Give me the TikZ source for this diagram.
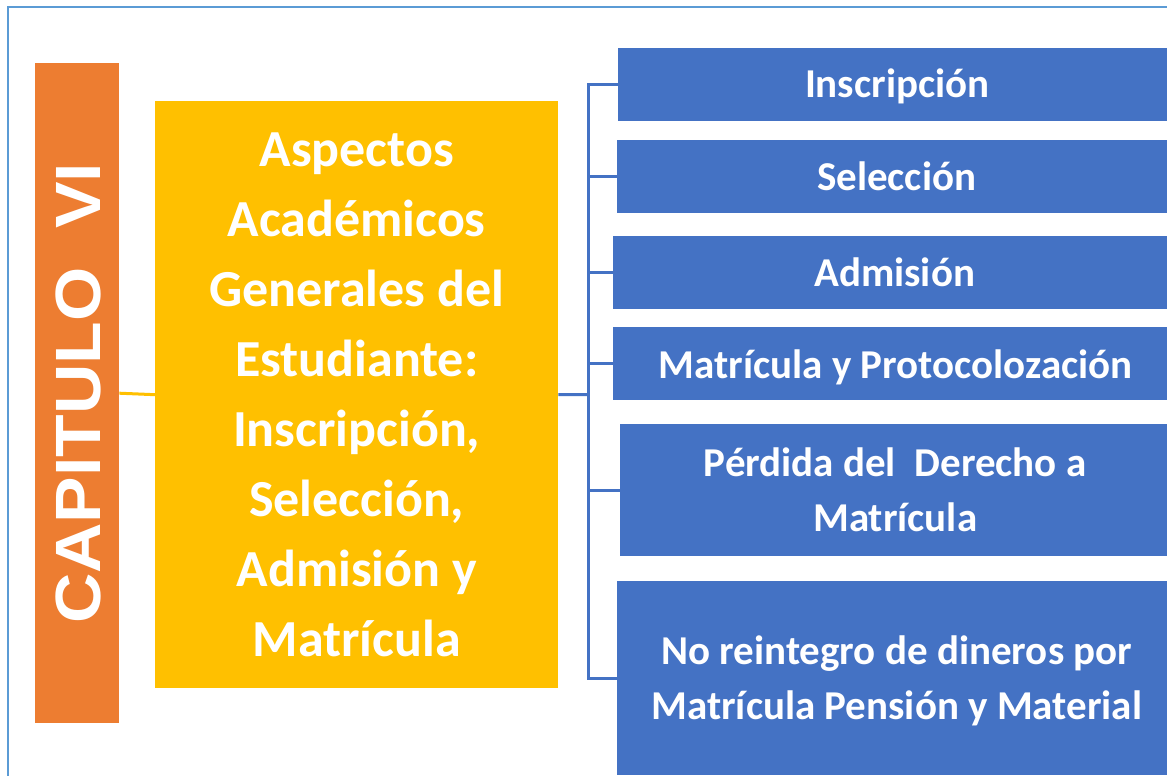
\documentclass[tikz,border=0pt]{standalone}
\usepackage{fontspec}
\setmainfont{Carlito}
\newfontfamily\arialb{Liberation Sans}[BoldFont={* Bold}]
\definecolor{framebl}{HTML}{5B9BD5}
\definecolor{capor}{HTML}{ED7D31}
\definecolor{aspyel}{HTML}{FFC000}
\definecolor{itembl}{HTML}{4472C4}
\begin{document}
\begin{tikzpicture}[x=1pt,y=-1pt,
  itembox/.style={fill=itembl,draw=none,anchor=north west,inner sep=0pt},
  itemtxt/.style={text=white,align=center,font=\fontsize{41}{55}\selectfont\bfseries},
  conn/.style={draw=itembl,line width=3pt},
  yconn/.style={draw=aspyel,line width=3pt}]
\useasboundingbox (0,0) rectangle (1167,776);
\fill[white] (0,0) rectangle (1167,776);
\draw[framebl,line width=2.5pt] (8,7) rectangle (1180,790);
% left column
\node[fill=capor,anchor=north west,minimum width=84pt,minimum height=660pt,inner sep=0pt] (cap) at (35,63) {};
\node[rotate=90,text=white,font=\arialb\fontsize{64}{70}\selectfont\bfseries] (captxt) at ([xshift=1pt]cap.center) {\scalebox{1.09}[1]{CAPITULO\ \ VI}};
\node[fill=aspyel,anchor=north west,minimum width=403pt,minimum height=587pt,inner sep=0pt] (yel) at (155,101) {};
\node[text=white,align=center,font=\fontsize{52}{70}\selectfont\bfseries] (yeltxt) at (yel.center)
 {Aspectos\\Académicos\\Generales del\\Estudiante:\\Inscripción,\\Selección,\\Admisión y\\Matrícula};
% right boxes
\node[itembox,minimum width=552pt,minimum height=73pt] (b1) at (618,48) {};
\node[itemtxt] (t1) at ([xshift=3pt,yshift=-2pt]b1.center) {Inscripción};
\node[itembox,minimum width=553pt,minimum height=73pt] (b2) at (617,140) {};
\node[itemtxt] (t2) at ([xshift=3pt,yshift=0pt]b2.center) {Selección};
\node[itembox,minimum width=557pt,minimum height=73pt] (b3) at (613,236) {};
\node[itemtxt] (t3) at ([xshift=3pt,yshift=0pt]b3.center) {Admisión};
\node[itembox,minimum width=557pt,minimum height=73pt] (b4) at (613,327) {};
\node[itemtxt] (t4) at ([xshift=4pt,yshift=-4pt]b4.center) {Matrícula y Protocolozación};
\node[itembox,minimum width=550pt,minimum height=132pt] (b5) at (620,424) {};
\node[itemtxt] (t5) at (b5.center) {Pérdida del\ \ Derecho a\\Matrícula};
\node[itembox,minimum width=553pt,minimum height=194pt] (b6) at (617,581) {};
\node[itemtxt] (t6) at ([xshift=3pt,yshift=-3pt]b6.center) {No reintegro de dineros por\\Matrícula Pensión y Material};
% connectors
\draw[yconn] (cap.east) -- (yel.west);
\coordinate (j) at (588,394.5);
\draw[conn] (yel.east) -- (j);
\draw[conn,line cap=rect] (j |- b1.west) -- (j |- b6.west);
\foreach \b in {b1,b2,b3,b4,b5,b6} {\draw[conn] (j |- \b.west) -- (\b.west);}
\end{tikzpicture}
\end{document}
